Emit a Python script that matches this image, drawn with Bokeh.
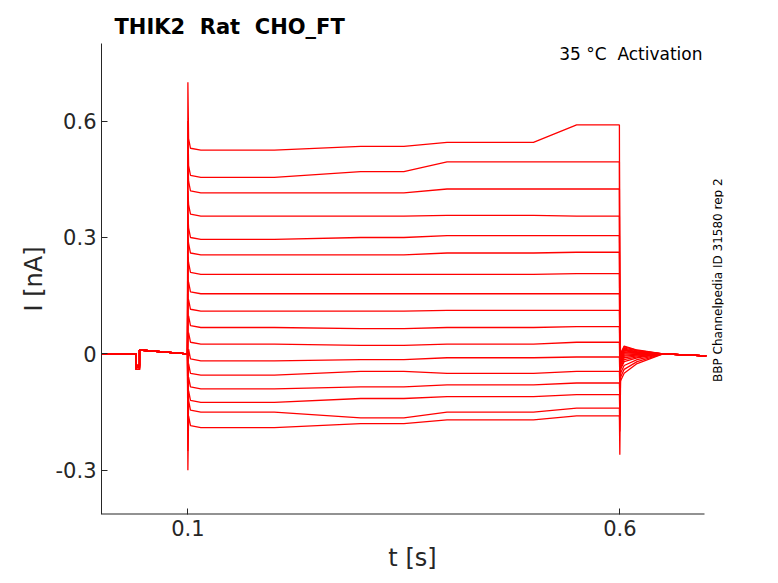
import numpy as np
from math import pi
from bokeh.plotting import figure
from bokeh.models import Label, FixedTicker
from bokeh.embed import file_html
from bokeh.resources import INLINE

# knot times of each sweep [s]
t_knots = [0.0, 0.040, 0.040, 0.044, 0.044, 0.0995, 0.1, 0.1008, 0.103, 0.115, 0.2, 0.3, 0.35, 0.4, 0.5, 0.55, 0.5995, 0.6, 0.6008, 0.605, 0.62, 0.65, 0.7]

# sweep levels [nA]
lvl_early = [0.525, 0.455, 0.415, 0.355, 0.295, 0.255, 0.205, 0.155, 0.110, 0.068, 0.025, -0.018, -0.055, -0.090, -0.125, -0.150, -0.190]
lvl_mid = [0.535, 0.470, 0.415, 0.355, 0.300, 0.255, 0.205, 0.155, 0.110, 0.065, 0.022, -0.015, -0.045, -0.085, -0.115, -0.165, -0.180]
lvl_late = [0.545, 0.495, 0.425, 0.357, 0.305, 0.260, 0.205, 0.155, 0.112, 0.068, 0.025, -0.010, -0.050, -0.080, -0.110, -0.150, -0.170]
lvl_end = [0.590, 0.495, 0.425, 0.355, 0.305, 0.262, 0.207, 0.155, 0.112, 0.070, 0.030, -0.008, -0.045, -0.075, -0.105, -0.140, -0.160]
on_peak = [0.70, 0.60, 0.50, 0.42, 0.36, 0.30, 0.25, 0.19, 0.14, 0.09, 0.04, -0.05, -0.10, -0.15, -0.20, -0.25, -0.30]
off_peak = [0.10, 0.08, 0.06, 0.05, 0.04, 0.03, 0.02, 0.01, 0.0, -0.02, -0.04, -0.06, -0.09, -0.12, -0.16, -0.20, -0.26]
off_tail = [0.020, 0.018, 0.015, 0.012, 0.010, 0.008, 0.005, 0.003, 0.0, -0.003, -0.006, -0.010, -0.015, -0.020, -0.030, -0.040, -0.050]
dip = [-0.030, -0.035, -0.040, -0.030, -0.035, -0.040, -0.030, -0.035, -0.040, -0.030, -0.035, -0.040, -0.030, -0.035, -0.040, -0.030, -0.035]

x_lo, x_hi = 0.0, 0.698
y_lo, y_hi = -0.414, 0.80

p = figure(width=762, height=574, x_range=(x_lo, 0.72), y_range=(y_lo, y_hi),
           output_backend="svg", toolbar_location=None,
           min_border_left=101, min_border_right=39, min_border_top=43, min_border_bottom=43)

for i in range(len(lvl_early)):
    ys = [0.0, 0.0, dip[i], dip[i], 0.01, 0.0, on_peak[i], lvl_early[i] + 0.03, lvl_early[i] + 0.005,
          lvl_early[i], lvl_early[i], lvl_mid[i], lvl_mid[i], lvl_late[i], lvl_late[i], lvl_end[i], lvl_end[i],
          off_peak[i], off_tail[i] - 0.02, off_tail[i], off_tail[i] * 0.5, 0.0, -0.005]
    p.line(t_knots, ys, line_color="red", line_width=1.3)

# bottom axis line only up to the data range end
p.segment(x0=[x_lo], y0=[y_lo], x1=[x_hi], y1=[y_lo], line_color="#262626", line_width=2)

p.xaxis.ticker = FixedTicker(ticks=[0.1, 0.6])
p.yaxis.ticker = FixedTicker(ticks=[-0.3, 0, 0.3, 0.6])
p.yaxis.major_label_overrides = {0: "0", -0.3: "-0.3", 0.3: "0.3", 0.6: "0.6"}
p.xaxis.axis_label = "t [s]"
p.yaxis.axis_label = "I [nA]"
for ax in (p.xaxis[0], p.yaxis[0]):
    ax.major_tick_in = 6
    ax.major_tick_out = 0
    ax.minor_tick_line_color = None
    ax.axis_line_color = "#262626"
    ax.major_tick_line_color = "#262626"
    ax.major_label_text_font_size = "21px"
    ax.major_label_text_color = "#262626"
    ax.axis_label_text_font_size = "24px"
    ax.axis_label_text_font_style = "normal"
    ax.axis_label_text_color = "#262626"
    ax.major_label_text_font = "DejaVu Sans"
    ax.axis_label_text_font = "DejaVu Sans"
p.xaxis.axis_line_color = None
p.xgrid.grid_line_color = None
p.ygrid.grid_line_color = None
p.outline_line_color = None

p.title.text = "THIK2\u00a0\u00a0Rat\u00a0\u00a0CHO_FT"
p.title.text_font = "DejaVu Sans"
p.title.text_font_size = "21px"
p.title.text_font_style = "bold"
p.title.text_color = "black"
p.title.offset = 13

p.add_layout(Label(x=x_hi, y=y_hi, x_offset=-2, y_offset=0, text="35 °C\u00a0\u00a0Activation",
                   text_align="right", text_baseline="top", text_font="DejaVu Sans",
                   text_font_size="17px", text_color="black"))
p.add_layout(Label(x=0.7135, y=0.19, angle=pi / 2,
                   text="BBP Channelpedia ID 31580 rep 2", text_align="center", text_baseline="middle",
                   text_font="DejaVu Sans", text_font_size="12px", text_color="black"))

open("out.html", "w").write(file_html(p, INLINE))
